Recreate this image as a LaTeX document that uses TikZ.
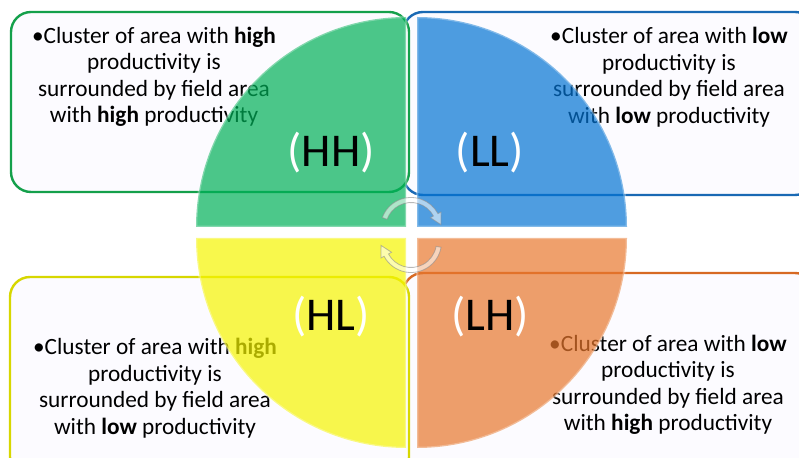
\documentclass[tikz,border=0pt]{standalone}
\usepackage{fontspec}
\setmainfont{Carlito}
\usetikzlibrary{calc}
\definecolor{qgreen}{RGB}{0,176,88}
\definecolor{qblue}{RGB}{4,116,211}
\definecolor{qyellow}{RGB}{245,245,0}
\definecolor{qorange}{RGB}{232,119,45}
\definecolor{bgreen}{RGB}{20,160,75}
\definecolor{bblue}{RGB}{25,105,180}
\definecolor{byellow}{RGB}{215,215,0}
\definecolor{borange}{RGB}{215,105,35}
\definecolor{boxfill}{RGB}{252,251,255}
\begin{document}
\begin{tikzpicture}[x=1pt,y=1pt,
  infobox/.style={rounded corners=20pt, line width=2.4pt, fill=boxfill},
  boxtext/.style={align=center, font=\fontsize{23.3}{26.5}\selectfont, inner sep=0pt},
  quad/.style={fill opacity=0.7, draw=white, draw opacity=0.3, line width=2.5pt},
  biglabel/.style={font=\fontsize{47}{52}\selectfont, inner sep=0pt},
  cyc/.style={fill=white, fill opacity=0.55, draw=black!45, draw opacity=0.6, line width=0.8pt}]
\clip (0,0) rectangle (799,457);
% boxes
\draw[infobox, draw=bblue] (403,262) rectangle (815,445);
\draw[infobox, draw=bgreen] (11,265) rectangle (409,445);
\draw[infobox, draw=borange] (403,-20) rectangle (815,184);
\draw[infobox, draw=byellow] (10,-20) rectangle (409,180);
\node[boxtext] (tgreen) at (154,380) {•Cluster of area with \textbf{high}\\productivity is\\surrounded by field area\\with \textbf{high} productivity};
\node[boxtext] (tblue) at (669,380) {•Cluster of area with \textbf{low}\\productivity is\\surrounded by field area\\with \textbf{low} productivity};
\node[boxtext] (tyellow) at (155,69) {•Cluster of area with \textbf{high}\\productivity is\\surrounded by field area\\with \textbf{low} productivity};
\node[boxtext] (torange) at (668,72) {•Cluster of area with \textbf{low}\\productivity is\\surrounded by field area\\with \textbf{high} productivity};
% quadrants
\path[quad, fill=qgreen] (406,230) -- (196,230) arc[start angle=180,end angle=90,radius=210] -- cycle;
\path[quad, fill=qblue] (417,230) -- (417,440) arc[start angle=90,end angle=0,radius=210] -- cycle;
\path[quad, fill=qyellow] (406,219) -- (406,9) arc[start angle=270,end angle=180,radius=210] -- cycle;
\path[quad, fill=qorange] (417,219) -- (627,219) arc[start angle=0,end angle=-90,radius=210] -- cycle;
% labels
\node[biglabel] (hh) at (331,304) {{\color{white}(}HH{\color{white})}};
\node[biglabel] (ll) at (490,304) {{\color{white}(}LL{\color{white})}};
\node[biglabel] (hl) at (331,140) {{\color{white}(}HL{\color{white})}};
\node[biglabel] (lh) at (490,140) {{\color{white}(}LH{\color{white})}};
% cycle arrows
\coordinate (T) at (411,229);
\coordinate (B) at (411,215);
\path[cyc] ($(T)+(160:30.5)$) arc[start angle=160,end angle=28,radius=30.5]
  -- ($(T)+(28:34)$) -- ($(T)+(28:28)+(-62:11)$) -- ($(T)+(28:22)$)
  -- ($(T)+(28:25.5)$) arc[start angle=28,end angle=160,radius=25.5] -- cycle;
\path[cyc] ($(B)+(-10:30.5)$) arc[start angle=-10,end angle=-152,radius=30.5]
  -- ($(B)+(-152:34)$) -- ($(B)+(-152:28)+(118:11)$) -- ($(B)+(-152:22)$)
  -- ($(B)+(-152:25.5)$) arc[start angle=-152,end angle=-10,radius=25.5] -- cycle;
\end{tikzpicture}
\end{document}
